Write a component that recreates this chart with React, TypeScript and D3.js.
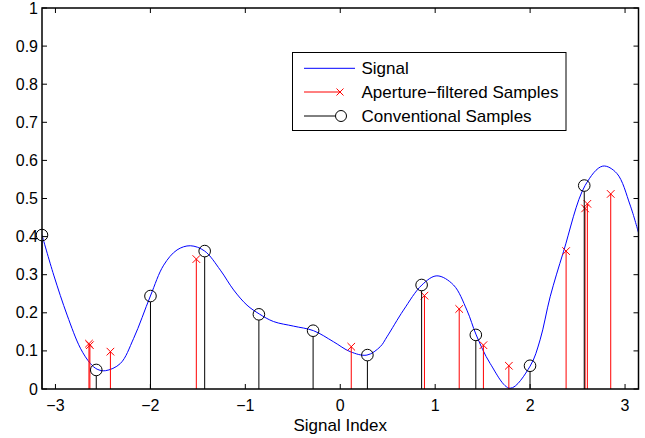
import React from "react";
import * as d3 from "d3";

// Signal curve
const signalX = [-3.1416, -3.018, -2.877, -2.737, -2.632, -2.561, -2.474, -2.316, -2.176, -2.0, -1.86, -1.719, -1.579, -1.428, -1.263, -1.123, -0.982, -0.853, -0.702, -0.492, -0.281, -0.071, 0.105, 0.281, 0.421, 0.492, 0.666, 0.86, 1.018, 1.193, 1.334, 1.432, 1.579, 1.789, 2.0, 2.105, 2.211, 2.351, 2.579, 2.765, 2.913, 3.053, 3.1416];
const signalY = [0.404, 0.299, 0.194, 0.107, 0.067, 0.052, 0.048, 0.067, 0.133, 0.244, 0.325, 0.365, 0.376, 0.362, 0.312, 0.26, 0.22, 0.197, 0.177, 0.165, 0.153, 0.124, 0.098, 0.089, 0.111, 0.137, 0.207, 0.273, 0.297, 0.273, 0.207, 0.142, 0.067, 0.002, 0.06, 0.129, 0.242, 0.36, 0.534, 0.585, 0.566, 0.483, 0.41];

// Aperture-filtered samples
const apertureX = [-2.647, -2.637, -2.421, -1.516, 0.116, 0.887, 1.253, 1.508, 1.776, 2.379, 2.579, 2.603, 2.849];
const apertureY = [0.119, 0.115, 0.098, 0.341, 0.111, 0.245, 0.21, 0.115, 0.061, 0.362, 0.474, 0.486, 0.512];

// Conventional samples
const convX = [-3.1416, -2.570, -1.999, -1.428, -0.857, -0.286, 0.286, 0.857, 1.428, 1.999, 2.570];
const convY = [0.404, 0.05, 0.244, 0.362, 0.196, 0.153, 0.089, 0.273, 0.142, 0.061, 0.534];

const xTicks = [-3, -2, -1, 0, 1, 2, 3];
const yTicks = [0, 0.1, 0.2, 0.3, 0.4, 0.5, 0.6, 0.7, 0.8, 0.9, 1];
const legendLabels = ["Signal", "Aperture\u2212filtered Samples", "Conventional Samples"];
const xLabel = "Signal Index";

const W = 645, H = 438;
const L = 42, R = 638.5, T = 8, B = 389;
const FONT = "'Liberation Sans', Arial, Helvetica, sans-serif";

export default function App() {
  const x = d3.scaleLinear().domain([-Math.PI, Math.PI]).range([L, R]);
  const y = d3.scaleLinear().domain([0, 1]).range([B, T]);
  const pts = signalX.map((v, i) => [v, signalY[i]] as [number, number]);
  const line = d3.line<[number, number]>().x(d => x(d[0])).y(d => y(d[1])).curve(d3.curveCatmullRom.alpha(0.5));
  const tl = 5;
  const fmtTick = (v: number) => (v < 0 ? "\u2212" + Math.abs(v) : String(v));
  const fmtY = (v: number) => (v === 0 || v === 1 ? String(v) : v.toFixed(1));
  const cross = (cx: number, cy: number, s: number, key: string) => (
    <path key={key} d={`M${cx - s},${cy - s}L${cx + s},${cy + s}M${cx - s},${cy + s}L${cx + s},${cy - s}`} stroke="#ff0000" strokeWidth={1} fill="none" />
  );
  const legX = 292.5, legY = 52.5, legW = 273.5, legH = 78;
  const rowY = [68.3, 92, 116];
  return (
    <svg width={W} height={H} style={{ position: "absolute", left: 0, top: 0, background: "#fff" }} fontFamily={FONT}>
      <rect x={0} y={0} width={W} height={H} fill="#fff" />
      <defs>
        <clipPath id="plotclip"><rect x={L} y={T} width={R - L} height={B - T} /></clipPath>
      </defs>
      {/* signal */}
      <path d={line(pts) || ""} stroke="#0000ff" strokeWidth={1} fill="none" clipPath="url(#plotclip)" />
      {/* aperture stems */}
      {apertureX.map((v, i) => (
        <g key={"a" + i}>
          <line x1={x(v)} x2={x(v)} y1={y(0)} y2={y(apertureY[i])} stroke="#ff0000" strokeWidth={1} />
          {cross(x(v), y(apertureY[i]), 3.8, "ac" + i)}
        </g>
      ))}
      {/* conventional stems */}
      {convX.map((v, i) => (
        <g key={"c" + i}>
          <line x1={x(v)} x2={x(v)} y1={y(0)} y2={y(convY[i]) + 5.8} stroke="#000" strokeWidth={1} />
          <circle cx={x(v)} cy={y(convY[i])} r={5.8} stroke="#000" strokeWidth={1} fill="none" />
        </g>
      ))}
      {/* frame */}
      <rect x={L} y={T} width={R - L} height={B - T} fill="none" stroke="#000" strokeWidth={1.5} />
      {xTicks.map(t => (
        <g key={"xt" + t}>
          <line x1={x(t)} x2={x(t)} y1={B} y2={B - tl} stroke="#000" strokeWidth={1} />
          <line x1={x(t)} x2={x(t)} y1={T} y2={T + tl} stroke="#000" strokeWidth={1} />
          <text x={x(t)} y={411} textAnchor="middle" fontSize={16} fill="#000">{fmtTick(t)}</text>
        </g>
      ))}
      {yTicks.map(t => (
        <g key={"yt" + t}>
          <line x1={L} x2={L + tl} y1={y(t)} y2={y(t)} stroke="#000" strokeWidth={1} />
          <line x1={R} x2={R - tl} y1={y(t)} y2={y(t)} stroke="#000" strokeWidth={1} />
          <text x={38} y={y(t) + 5.5} textAnchor="end" fontSize={16} fill="#000">{fmtY(t)}</text>
        </g>
      ))}
      <text x={x(0)} y={431} textAnchor="middle" fontSize={17} fill="#000">{xLabel}</text>
      {/* legend */}
      <rect x={legX} y={legY} width={legW} height={legH} fill="#fff" stroke="#000" strokeWidth={1} />
      <line x1={304} x2={355} y1={rowY[0]} y2={rowY[0]} stroke="#0000ff" strokeWidth={1} />
      <line x1={304} x2={340} y1={rowY[1]} y2={rowY[1]} stroke="#ff0000" strokeWidth={1} />
      {cross(340, rowY[1], 3.5, "lc")}
      <line x1={304} x2={335} y1={rowY[2]} y2={rowY[2]} stroke="#000" strokeWidth={1} />
      <circle cx={341} cy={rowY[2]} r={5.5} stroke="#000" strokeWidth={1} fill="none" />
      {legendLabels.map((s, i) => (
        <text key={s} x={361.5} y={rowY[i] + 6} fontSize={17} fill="#000">{s}</text>
      ))}
    </svg>
  );
}
